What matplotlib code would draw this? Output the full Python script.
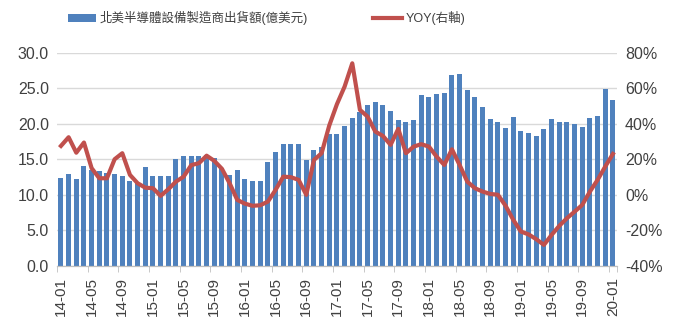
import numpy as np
import pandas as pd
import matplotlib
matplotlib.use('Agg')
import matplotlib.pyplot as plt

plt.rcParams['font.family'] = ['Liberation Sans', 'Noto Sans CJK TC', 'DejaVu Sans']

# monthly shipments (100M USD) and YoY growth (%), 2014-01 .. 2020-01
months = pd.date_range('2014-01-01', periods=73, freq='MS').strftime('%y-%m')
shipments = [12.3, 12.9, 12.2, 14.0, 13.5, 13.3, 13.1, 12.9, 12.6, 11.9, 11.6, 13.9,
             12.7, 12.7, 12.6, 15.1, 15.5, 15.5, 15.5, 15.6, 15.2, 13.7, 12.8, 13.5,
             12.2, 12.0, 11.9, 14.6, 16.0, 17.1, 17.1, 17.1, 14.9, 16.3, 16.7, 18.6,
             18.6, 19.7, 20.8, 21.6, 22.7, 23.0, 22.7, 21.8, 20.5, 20.2, 20.5, 24.0,
             23.7, 24.2, 24.3, 26.9, 27.0, 24.8, 23.8, 22.3, 20.7, 20.3, 19.4, 21.0,
             19.0, 18.7, 18.3, 19.2, 20.6, 20.3, 20.3, 20.0, 19.6, 20.8, 21.1, 24.9,
             23.4]
yoy = [27.5, 32.4, 23.7, 29.4, 15.0, 9.3, 9.3, 20.0, 23.4, 11.2, 6.5, 4.0,
       3.7, -0.6, 3.1, 7.4, 10.2, 16.7, 17.8, 22.0, 19.1, 14.6, 6.5, -2.9,
       -5.0, -6.2, -5.9, -3.8, 2.8, 10.2, 9.9, 8.4, 0.0, 19.6, 23.4, 39.0,
       51.0, 60.9, 74.0, 47.8, 44.0, 35.6, 33.1, 28.1, 37.1, 23.4, 27.1, 28.5,
       27.1, 21.5, 16.8, 25.6, 16.8, 7.4, 3.7, 1.8, 0.5, 0.0, -6.2, -14.1,
       -20.7, -22.3, -25.0, -28.2, -22.6, -17.5, -13.2, -9.5, -5.7, 1.8, 8.4, 15.9,
       23.0]

bar_label = '北美半導體設備製造商出貨額(億美元)'
line_label = 'YOY(右軸)'
txt = '#404040'

fig = plt.figure(figsize=(6.8, 3.27), dpi=100)
ax = fig.add_axes([0.084, 0.187, 0.823, 0.652])
ax2 = ax.twinx()

x = np.arange(len(months))
bars = ax.bar(x, shipments, width=0.65, color='#4F81BD', zorder=2, label=bar_label)
line, = ax2.plot(x, yoy, color='#C0504D', lw=3, zorder=3, label=line_label)

ax.set_xlim(-0.5, len(months) - 0.5)
ax.set_ylim(0, 30)
ax.set_yticks(np.arange(0, 30.1, 5))
ax.set_yticklabels([f'{v:.1f}' for v in np.arange(0, 30.1, 5)])
ax2.set_ylim(-40, 80)
ax2.set_yticks(np.arange(-40, 81, 20))
ax2.set_yticklabels([f'{v}%' for v in range(-40, 81, 20)])

ax.grid(axis='y', color='#d9d9d9', lw=1, zorder=0)
ax.set_axisbelow(True)

ax.set_xticks(x[::4])
ax.set_xticklabels(months[::4], rotation=90)
ax.set_xticks(np.append(x[::4] - 0.5, len(months) - 0.5), minor=True)
ax.tick_params(axis='x', which='major', length=0, pad=8, labelsize=11, colors=txt)
ax.tick_params(axis='x', which='minor', length=4, color='#bfbfbf')
ax.tick_params(axis='y', length=0, labelsize=11.5, colors=txt, pad=6)
ax2.tick_params(axis='y', length=0, labelsize=11.5, colors=txt, pad=6)

for a in (ax, ax2):
    for s in ('top', 'left', 'right'):
        a.spines[s].set_visible(False)
    a.spines['bottom'].set_color('#bfbfbf')

fig.legend(handles=[bars, line], labels=[bar_label, line_label], loc='upper center',
           bbox_to_anchor=(0.392, 1.0), ncol=2, frameon=False, fontsize=9,
           handlelength=2.3, handleheight=0.55, handletextpad=0.3,
           columnspacing=5.2, labelcolor=txt)

fig.savefig('out.png', dpi=100)
